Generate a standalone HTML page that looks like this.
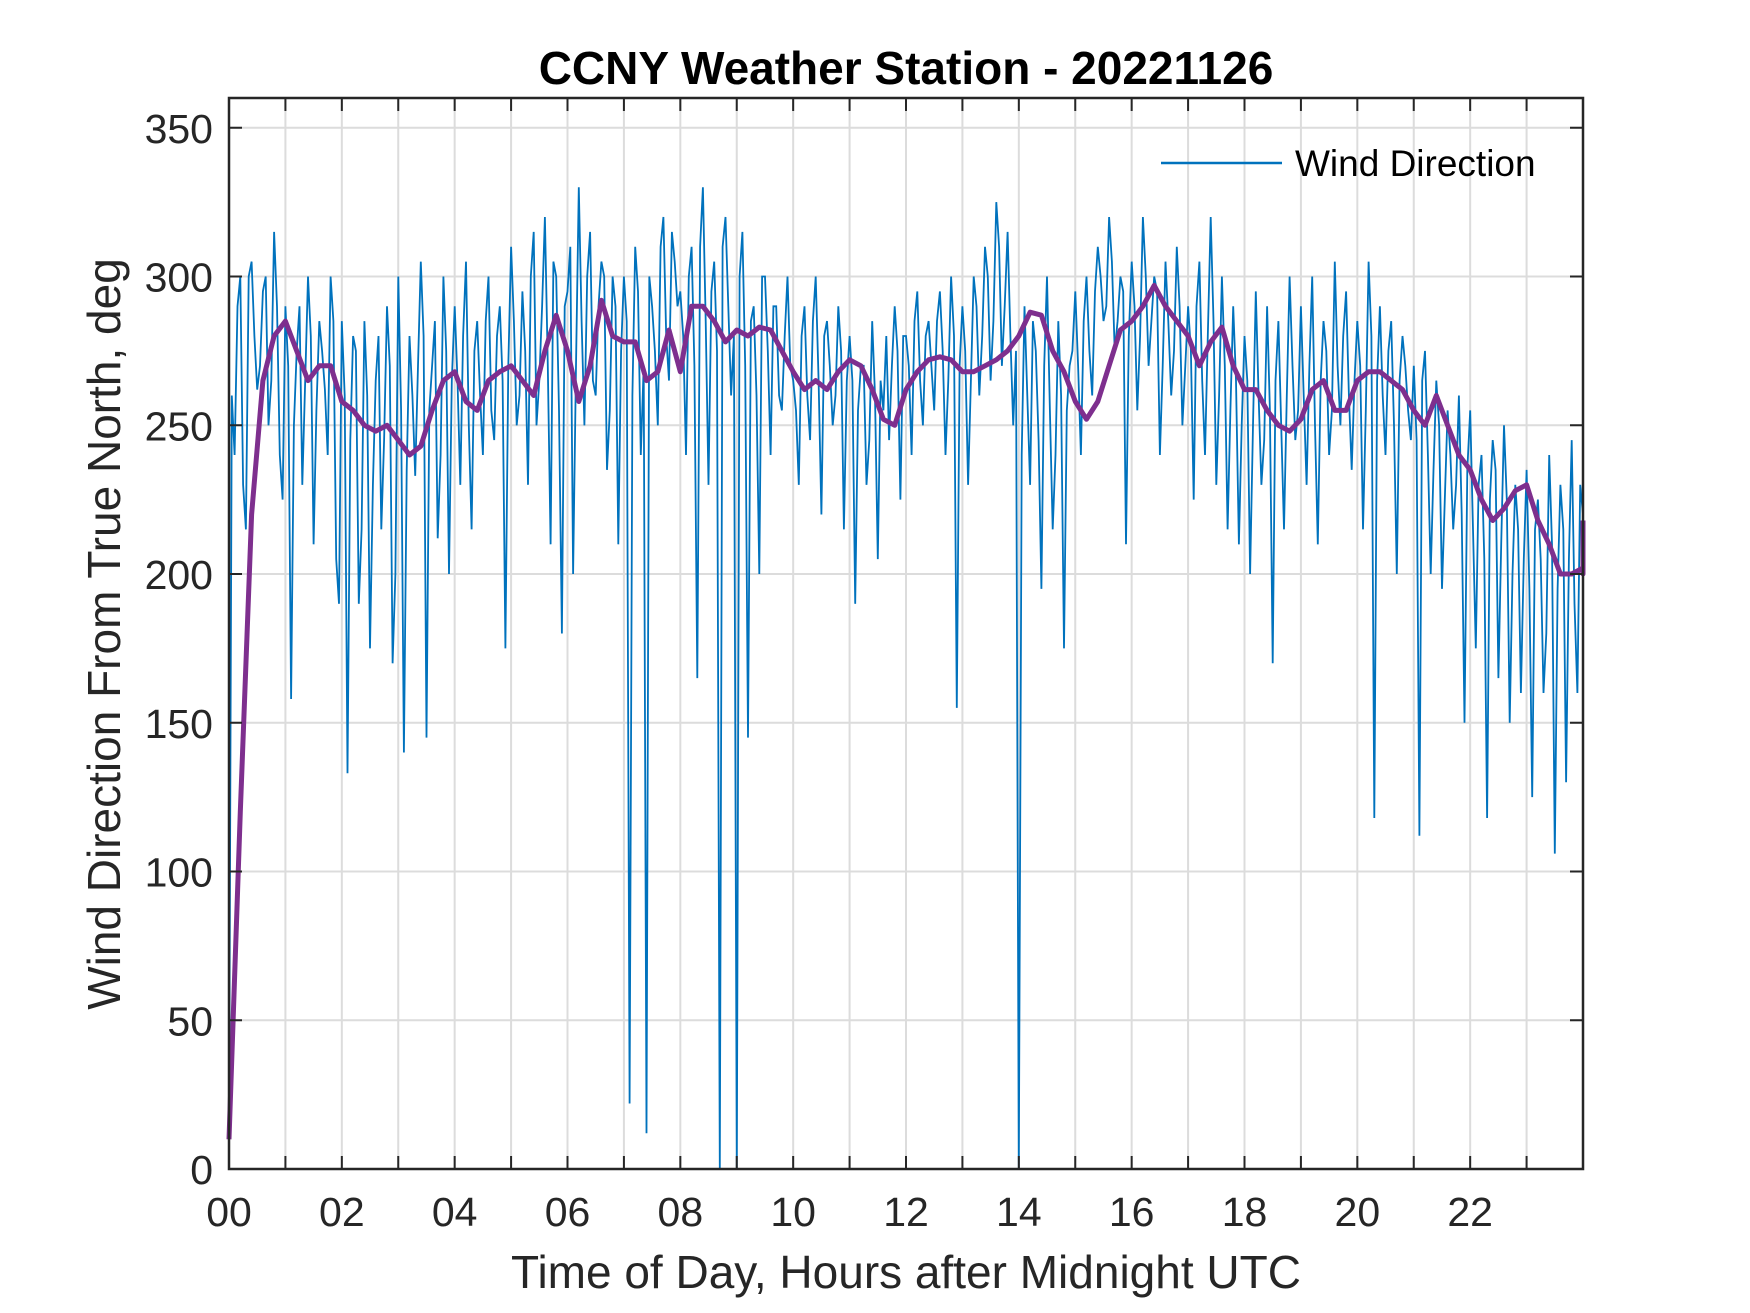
<!DOCTYPE html>
<html><head><meta charset="utf-8"><style>
html,body{margin:0;padding:0;background:#fff}
svg{display:block;font-family:"Liberation Sans",Arial,sans-serif}
</style></head><body>
<svg id="chart" width="1750" height="1313" viewBox="0 0 1750 1313" xmlns="http://www.w3.org/2000/svg">
<rect x="0" y="0" width="1750" height="1313" fill="#fff"/>
<g id="grid"></g>
<g id="series"></g>
<g id="axes"></g>
<text x="906" y="84" text-anchor="middle" font-size="46" font-weight="bold" fill="#000">CCNY Weather Station - 20221126</text>
<text x="906" y="1288" text-anchor="middle" font-size="46" fill="#262626">Time of Day, Hours after Midnight UTC</text>
<text transform="translate(120,634) rotate(-90)" text-anchor="middle" font-size="46" fill="#262626">Wind Direction From True North, deg</text>
<g>
<line x1="1161" y1="163" x2="1282" y2="163" stroke="#0072bd" stroke-width="2.5"/>
<text x="1295" y="176" font-size="37" fill="#000">Wind Direction</text>
</g>
</svg>
<script>
const xTicks=[0,2,4,6,8,10,12,14,16,18,20,22];
const xTickLabels=["00","02","04","06","08","10","12","14","16","18","20","22"];
const yTicks=[0,50,100,150,200,250,300,350];
const windStep=0.1;
const windDir=[
10,240,300,215,305,262,295,250,315,240,
290,158,275,230,300,210,285,262,300,205,
285,133,280,190,285,175,265,215,290,170,
300,140,280,233,305,145,270,212,300,200,
290,230,305,215,285,240,300,245,290,175,
310,250,295,230,315,265,320,210,300,180,
295,200,330,250,315,260,305,235,300,210,
300,22,310,240,12,290,250,320,265,305,
295,240,310,165,330,230,305,0,320,260,
0,315,145,290,200,300,240,290,255,300,
265,230,290,245,300,220,285,250,290,215,
280,190,270,230,285,205,255,245,290,225,
280,240,295,250,285,255,295,240,300,155,
290,230,300,260,310,265,325,270,315,250,
0,290,230,275,195,300,215,285,175,270,
295,240,300,260,310,285,320,275,300,210,
305,255,320,270,300,240,305,260,310,250,
290,225,305,240,320,230,300,215,290,210,
280,200,295,230,290,170,285,215,300,245,
290,230,300,210,285,240,305,250,295,235,
285,215,305,118,290,240,285,200,280,255,
270,112,275,200,265,195,255,215,260,150,
255,175,240,118,245,165,250,150,230,160,
235,125,225,160,240,106,230,130,245,160,
220];
const windDirMid=[
260,290,230,300,280,270,300,265,290,225,
270,250,290,265,280,255,275,240,285,190,
260,245,275,215,260,230,280,245,270,200,
255,235,260,270,280,255,285,240,275,265,
265,280,250,275,260,285,255,280,265,270,
285,260,275,300,250,290,270,305,255,290,
310,270,285,300,265,290,300,255,290,275,
285,260,295,270,300,275,310,280,315,290,
280,300,270,310,285,295,275,310,290,280,
300,270,285,260,300,275,290,260,280,270,
255,280,260,285,265,280,270,260,275,265,
265,255,270,245,260,265,280,270,275,280,
270,285,265,280,270,285,275,265,280,270,
275,265,290,280,300,285,310,290,280,275,
240,260,285,245,270,255,240,260,255,275,
270,285,275,295,300,290,305,285,295,280,
290,280,300,285,295,270,285,275,290,270,
275,290,265,280,285,260,270,255,265,250,
265,250,260,245,255,265,250,260,270,255,
260,270,250,265,275,255,270,280,260,265,
270,255,280,265,260,275,250,265,270,245,
245,265,240,235,250,225,240,230,220,235,
215,230,205,225,235,210,225,200,215,205,
195,215,205,180,210,195,215,205,190,230];
const avgStep=0.2;
const windAvg=[10,120,220,265,280,285,275,265,270,270,258,255,250,248,250,245,240,243,255,265,268,258,255,265,268,270,265,260,275,287,275,258,270,292,280,278,278,265,268,282,268,290,290,285,278,282,280,283,282,275,268,262,265,262,268,272,270,262,252,250,262,268,272,273,272,268,268,270,272,275,280,288,287,275,268,258,252,258,270,282,285,290,297,290,285,280,270,278,283,270,262,262,255,250,248,252,262,265,255,255,265,268,268,265,262,255,250,260,250,240,235,225,218,222,228,230,218,210,200,200,202,200,218];

const L=229,R=1583,T=98,B=1169,XMAX=24,YMAX=360;
const xs=h=>L+h/XMAX*(R-L);
const ys=v=>B-v/YMAX*(B-T);
const NS="http://www.w3.org/2000/svg";
function mk(tag,attrs,parent){const e=document.createElementNS(NS,tag);for(const k in attrs)e.setAttribute(k,attrs[k]);parent.appendChild(e);return e;}
const grid=document.getElementById('grid'),series=document.getElementById('series'),axes=document.getElementById('axes');
for(let h=1;h<XMAX;h++){
 const g=mk('line',{x1:xs(h),x2:xs(h),y1:T,y2:B,stroke:'#dcdcdc','stroke-width':2},grid);
 
 
}
yTicks.forEach(v=>{
 if(v===0)return;
 const g=mk('line',{x1:L,x2:R,y1:ys(v),y2:ys(v),stroke:'#dcdcdc','stroke-width':2},grid);
 
 
});
const wp=[];
windDir.forEach((v,i)=>{
 wp.push(xs(Math.min(i*windStep,XMAX)).toFixed(1)+','+ys(v).toFixed(1));
 if(i<windDirMid.length) wp.push(xs(Math.min(i*windStep+windStep/2,XMAX)).toFixed(1)+','+ys(windDirMid[i]).toFixed(1));
});
const wl=mk('polyline',{points:wp.join(' '),fill:'none',stroke:'#0072bd','stroke-width':1.8,'stroke-linejoin':'miter'},series);


const pts=windAvg.map((v,i)=>xs(Math.min(i*avgStep,XMAX)).toFixed(1)+','+ys(v).toFixed(1)).join(' ');
const al=mk('polyline',{points:pts,fill:'none',stroke:'#7e2f8e','stroke-width':5,'stroke-linejoin':'round'},series);


const fr=mk('rect',{x:L,y:T,width:R-L,height:B-T,fill:'none',stroke:'#262626','stroke-width':2.5},axes);


for(let h=1;h<XMAX;h++){
 mk('line',{x1:xs(h),x2:xs(h),y1:B,y2:B-13,stroke:'#262626','stroke-width':2},axes);
 mk('line',{x1:xs(h),x2:xs(h),y1:T,y2:T+13,stroke:'#262626','stroke-width':2},axes);
}
xTicks.forEach((h,i)=>{
 const t=mk('text',{x:xs(h),y:B+57,'text-anchor':'middle','font-size':41,fill:'#262626'},axes);
 t.textContent=xTickLabels[i];
 
 
});
yTicks.forEach(v=>{
 mk('line',{x1:L,x2:L+13,y1:ys(v),y2:ys(v),stroke:'#262626','stroke-width':2},axes);
 mk('line',{x1:R,x2:R-13,y1:ys(v),y2:ys(v),stroke:'#262626','stroke-width':2},axes);
 const t=mk('text',{x:L-16,y:ys(v)+15,'text-anchor':'end','font-size':41,fill:'#262626'},axes);
 t.textContent=String(v);
 
 
});
</script>
</body></html>
